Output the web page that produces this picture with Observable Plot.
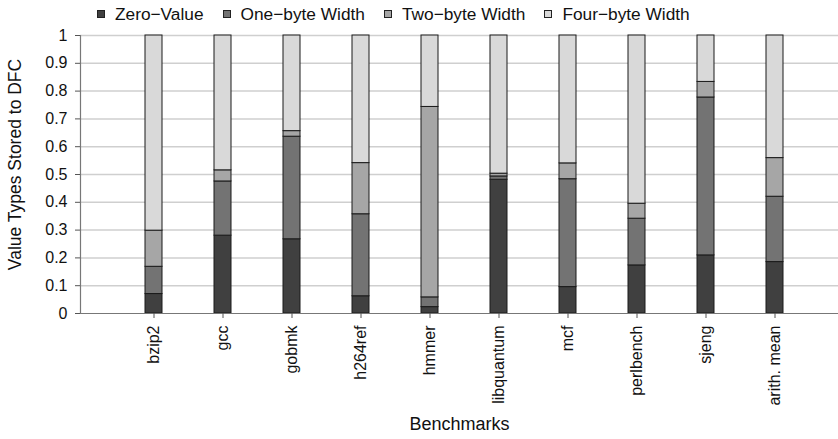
<!DOCTYPE html>
<html><head><meta charset="utf-8">
<script src="https://cdn.jsdelivr.net/npm/d3@7"></script>
<script src="https://cdn.jsdelivr.net/npm/@observablehq/plot@0.6"></script>
<style>
body{margin:0;background:#fff;font-family:"Liberation Sans",Arial,Helvetica,sans-serif;}
#wrap{position:relative;width:838px;height:439px;overflow:hidden;}
#legend{position:absolute;top:4px;left:97px;display:flex;gap:19px;font-size:17.3px;line-height:20px;color:#111;white-space:nowrap;}
#legend .item{display:flex;align-items:center;}
#legend .sw{width:6px;height:6px;border:1px solid #222;margin-right:10px;}
</style></head><body>
<div id="wrap"><div id="chart"></div><div id="legend"></div></div>
<script>
const benchmarks = ["bzip2","gcc","gobmk","h264ref","hmmer","libquantum","mcf","perlbench","sjeng","arith. mean"];
const seriesNames = ["Zero\u2212Value","One\u2212byte Width","Two\u2212byte Width","Four\u2212byte Width"];
const zeroValue = [0.070,0.280,0.267,0.062,0.023,0.481,0.095,0.173,0.209,0.185];
const oneByte   = [0.098,0.195,0.369,0.295,0.035,0.012,0.388,0.168,0.568,0.235];
const twoByte   = [0.130,0.040,0.020,0.184,0.685,0.010,0.057,0.054,0.056,0.139];
const fourByte  = [0.702,0.485,0.344,0.459,0.257,0.497,0.460,0.605,0.167,0.441];
const seriesColors = ["#404040","#737373","#a6a6a6","#d9d9d9"];
const yTicks = [0,0.1,0.2,0.3,0.4,0.5,0.6,0.7,0.8,0.9,1];
const xTitle = "Benchmarks";
const yTitle = "Value Types Stored to DFC";

const seriesValues = [zeroValue, oneByte, twoByte, fourByte];
const rows = [];
seriesNames.forEach((s, si) => benchmarks.forEach((b, bi) => rows.push({bench: b, series: s, value: seriesValues[si][bi]})));

const chart = Plot.plot({
  width: 838, height: 439,
  marginTop: 35, marginBottom: 126, marginLeft: 80, marginRight: 0,
  style: {fontFamily: '"Liberation Sans", Arial, Helvetica, sans-serif', fontSize: "16px", color: "#111", background: "#fff"},
  x: {type: "band", domain: benchmarks, range: [115, 812], padding: 0},
  y: {domain: [0, 1]},
  color: {domain: seriesNames, range: seriesColors},
  marks: [
    Plot.ruleY(yTicks.slice(1), {stroke: "#cfcfcf", strokeWidth: 1.5}),
    Plot.barY(rows, {x: "bench", y: "value", fill: "series", stroke: "#1a1a1a", strokeWidth: 1, insetLeft: 26, insetRight: 26}),
    Plot.frame({anchor: "left", stroke: "#777", strokeWidth: 1.2}),
    Plot.ruleY([0], {stroke: "#777", strokeWidth: 1.2}),
    Plot.axisY({ticks: yTicks, tickFormat: d => String(d), tickSize: 5, tickPadding: 8, label: null, fontSize: 16, stroke: "#555"}),
    Plot.axisX({tickRotate: -90, tickSize: 5, tickPadding: 7, label: null, fontSize: 16, stroke: "#555"}),
    Plot.text([xTitle], {text: d => d, frameAnchor: "bottom", dy: 111, fontSize: 18, lineAnchor: "middle", fill: "#111"}),
    Plot.text([yTitle], {text: d => d, frameAnchor: "left", textAnchor: "middle", rotate: -90, dx: -65, dy: -10, fontSize: 17.5, lineAnchor: "middle", fill: "#111"})
  ]
});
document.getElementById("chart").appendChild(chart);

const legend = document.getElementById("legend");
seriesNames.forEach((s, i) => {
  const it = document.createElement("div"); it.className = "item";
  const sw = document.createElement("span"); sw.className = "sw"; sw.style.background = seriesColors[i];
  const tx = document.createElement("span"); tx.textContent = s;
  it.appendChild(sw); it.appendChild(tx); legend.appendChild(it);
});
</script>
</body></html>
